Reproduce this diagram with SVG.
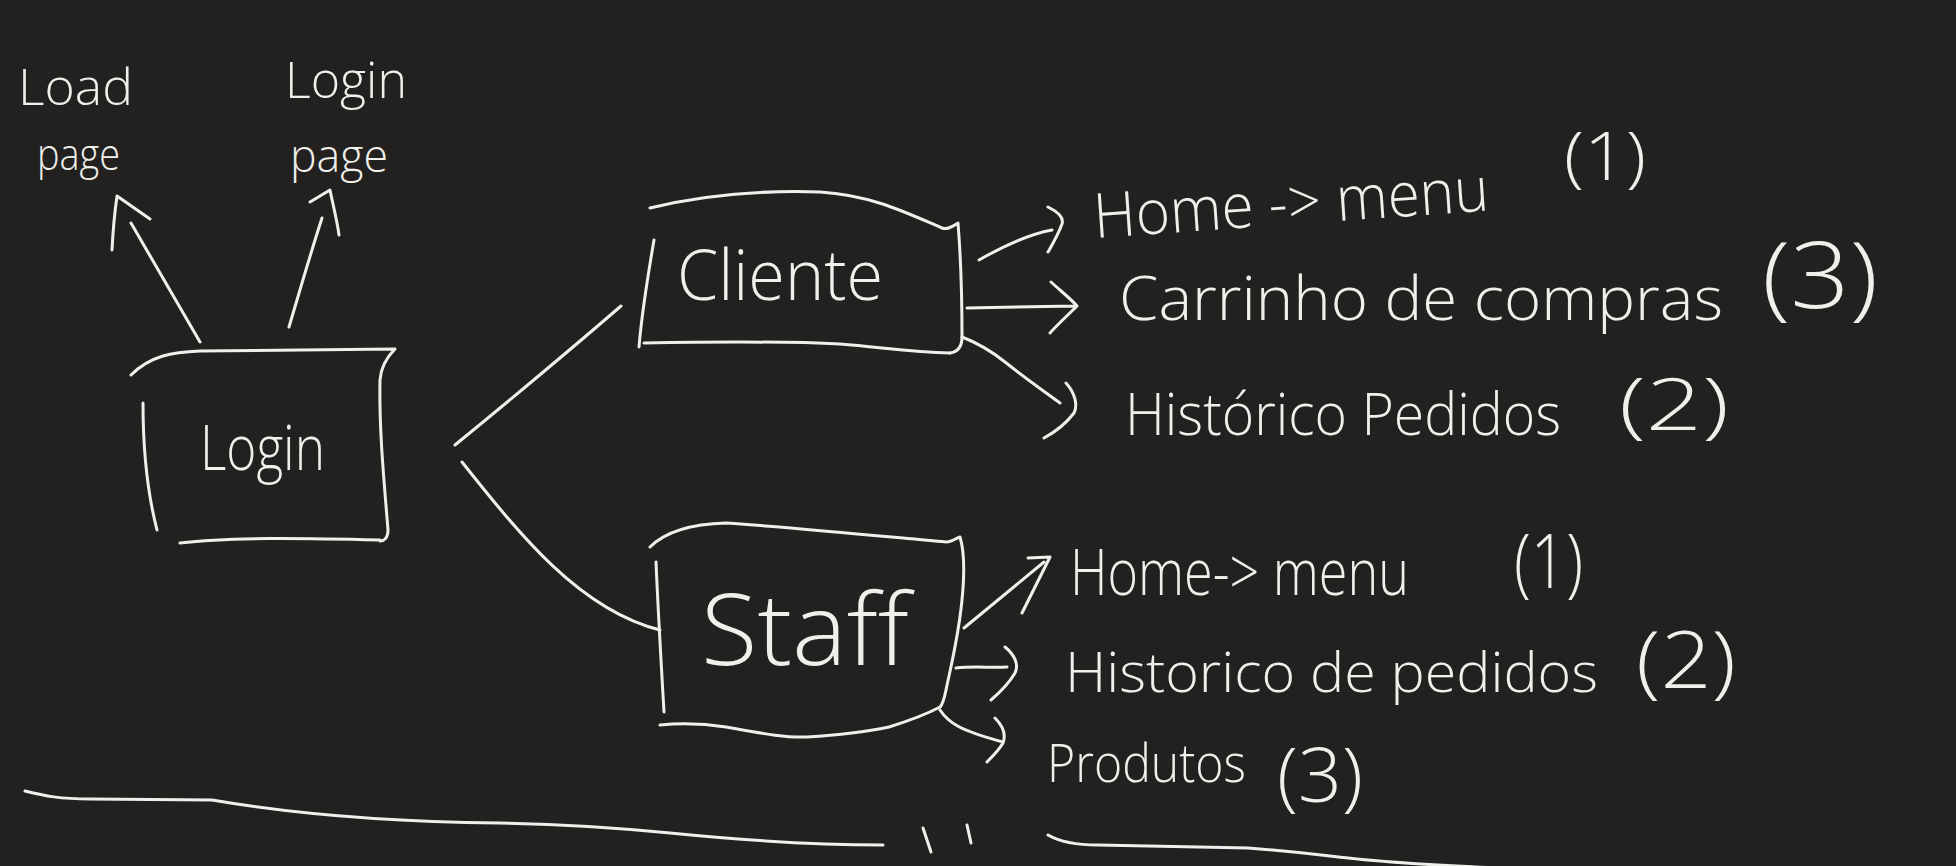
<svg xmlns="http://www.w3.org/2000/svg" width="1956" height="866" viewBox="0 0 1956 866">
<style>
.bg{fill:#222120}
.ink{fill:none;stroke:#efefeb;stroke-width:3;stroke-linecap:round;stroke-linejoin:round}
.t{fill:#efefeb;font-family:"Open Sans","Liberation Sans",sans-serif;font-weight:300}
</style>
<rect class="bg" x="0" y="0" width="1956" height="866"/>

<g id="connectors" class="ink">
  <path id="login-load" d="M200,342 L131,223 M112,250 C113,230 115,210 117,196 L150,219"/>
  <path id="login-loginpage" d="M289,327 C300,290 310,255 322,218 M310,202 L330,190 C333,205 337,220 339,235"/>
  <path id="login-cliente" d="M455,445 C510,400 570,350 621,306"/>
  <path id="login-staff" d="M462,462 C520,535 580,610 660,630"/>
  <path id="cliente-home" d="M979,260 C1000,248 1025,235 1052,230 M1048,207 C1058,212 1064,218 1062,224 C1058,235 1052,245 1048,252"/>
  <path id="cliente-carrinho" d="M967,308 L1075,306 M1051,282 C1062,292 1072,300 1077,306 C1068,315 1058,324 1050,333"/>
  <path id="cliente-historico" d="M962,337 C975,342 990,350 1005,362 C1025,378 1045,392 1060,403 M1066,383 C1075,393 1078,405 1074,413 C1065,425 1055,432 1044,438"/>
  <path id="staff-home" d="M964,628 L1044,562 M1028,558 L1050,557 L1022,613"/>
  <path id="staff-historico" d="M956,668 C975,666 990,668 1007,667 M1005,647 C1015,655 1019,665 1015,673 C1008,685 998,694 991,700"/>
  <path id="staff-produtos" d="M940,710 C948,722 958,730 1003,742 M995,718 C1003,726 1006,735 1003,743 C999,750 993,756 987,762"/>
</g>

<g id="node-login">
  <g class="ink">
    <path d="M131,375 C150,356 172,352 200,351 L395,349 C388,356 381,365 380,380 C379,430 384,480 388,530 C388,538 384,541 380,541"/>
    <path d="M180,543 C230,537 300,538 380,540"/>
    <path d="M143,403 C143,450 148,495 157,530"/>
  </g>
  <text class="t" x="200" y="470" font-size="62" textLength="125" lengthAdjust="spacingAndGlyphs">Login</text>
</g>

<g id="node-loadpage">
  <text class="t" x="18" y="105" font-size="50" textLength="115" lengthAdjust="spacingAndGlyphs">Load</text>
  <text class="t" x="37" y="170" font-size="44" textLength="83" lengthAdjust="spacingAndGlyphs">page</text>
</g>

<g id="node-loginpage">
  <text class="t" x="285" y="98" font-size="50" textLength="122" lengthAdjust="spacingAndGlyphs">Login</text>
  <text class="t" x="290" y="172" font-size="46" textLength="98" lengthAdjust="spacingAndGlyphs">page</text>
</g>

<g id="node-cliente">
  <g class="ink">
    <path d="M650,208 C700,196 760,190 820,192 C870,195 905,212 942,228 C948,230 953,226 958,223 C961,260 962,300 962,337 C962,348 957,352 950,353"/>
    <path d="M644,343 C700,342 780,341 840,344 C880,347 910,352 950,353"/>
    <path d="M654,240 C648,275 642,310 639,347"/>
  </g>
  <text class="t" x="677" y="300" font-size="70" textLength="206" lengthAdjust="spacingAndGlyphs">Cliente</text>
</g>

<g id="node-staff">
  <g class="ink">
    <path d="M650,547 C665,532 690,524 726,523 C800,528 880,536 946,542 C952,542 956,538 960,537 C964,550 965,570 962,600 C958,640 950,670 946,690 C944,700 942,705 940,707"/>
    <path d="M660,725 C680,723 700,723 726,727 C760,733 785,738 807,737 C840,735 870,731 889,727 C905,722 925,715 940,707"/>
    <path d="M656,562 C658,610 661,660 664,712"/>
  </g>
  <text class="t" x="701" y="665" font-size="100" textLength="208" lengthAdjust="spacingAndGlyphs">Staff</text>
</g>

<g id="node-cliente-home">
  <text class="t" font-size="62" transform="rotate(-4 1095 238)"><tspan x="1095" y="238" textLength="396" lengthAdjust="spacingAndGlyphs">Home -&gt; menu</tspan></text>
  <text class="t" x="1564" y="180" font-size="66" textLength="82" lengthAdjust="spacingAndGlyphs">(1)</text>
</g>

<g id="node-cliente-carrinho">
  <text class="t"><tspan x="1119" y="320" font-size="60" textLength="604" lengthAdjust="spacingAndGlyphs">Carrinho de compras</tspan><tspan x="1762" y="308" font-size="92" textLength="116" lengthAdjust="spacingAndGlyphs">(3)</tspan></text>
</g>

<g id="node-cliente-historico">
  <text class="t"><tspan x="1125" y="435" font-size="58" textLength="436" lengthAdjust="spacingAndGlyphs">Histórico Pedidos</tspan><tspan x="1619" y="430" font-size="72" textLength="110" lengthAdjust="spacingAndGlyphs">(2)</tspan></text>
</g>

<g id="node-staff-home">
  <text class="t"><tspan x="1070" y="595" font-size="64" textLength="339" lengthAdjust="spacingAndGlyphs">Home-&gt; menu</tspan><tspan x="1514" y="588" font-size="76" textLength="69" lengthAdjust="spacingAndGlyphs">(1)</tspan></text>
</g>

<g id="node-staff-historico">
  <text class="t"><tspan x="1065" y="692" font-size="56" textLength="533" lengthAdjust="spacingAndGlyphs">Historico de pedidos</tspan><tspan x="1636" y="688" font-size="80" textLength="100" lengthAdjust="spacingAndGlyphs">(2)</tspan></text>
</g>

<g id="node-staff-produtos">
  <text class="t"><tspan x="1047" y="782" font-size="54" textLength="199" lengthAdjust="spacingAndGlyphs">Produtos</tspan><tspan x="1277" y="802" font-size="76" textLength="86" lengthAdjust="spacingAndGlyphs">(3)</tspan></text>
</g>

<g id="baseline" class="ink">
  <path d="M25,791 C45,796 60,799 90,799 L212,800 C300,815 400,822 499,823 C560,824 620,828 670,833 C720,838 800,845 883,845"/>
  <path d="M923,828 L931,852 M967,825 L971,843"/>
  <path d="M1048,835 C1060,842 1075,845 1098,845 L1248,848 C1300,852 1330,856 1348,858 C1400,864 1460,866 1497,868"/>
</g>
</svg>
